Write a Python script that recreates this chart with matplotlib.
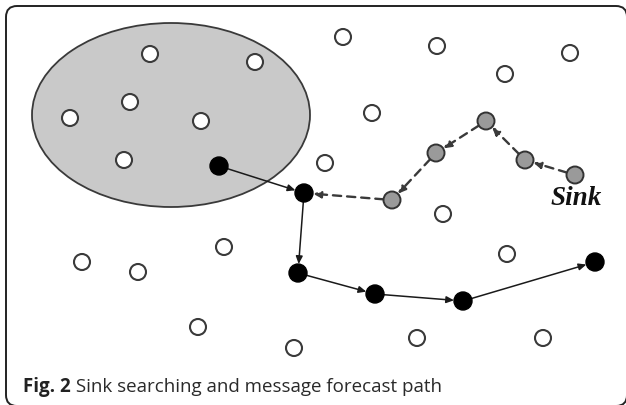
import matplotlib
matplotlib.use("Agg")
import matplotlib.pyplot as plt
from matplotlib.patches import Circle, Ellipse, FancyBboxPatch

# Node positions (pixel-like coordinates, y downward)
white_x = [150, 255, 130, 70, 201, 124, 343, 437, 570, 505, 372, 325, 443, 507, 224, 82, 138, 198, 294, 417, 543]
white_y = [54, 62, 102, 118, 121, 160, 37, 46, 53, 74, 113, 163, 214, 254, 247, 262, 272, 327, 348, 338, 338]

# gray path: sink -> ... (dashed, message forecast)
gray_x = [575, 525, 486, 436, 392]
gray_y = [175, 160, 121, 153, 200]

# black path (solid, sink searching)
black_x = [219, 304, 298, 375, 463, 595]
black_y = [166, 193, 273, 294, 301, 262]

ellipse_center = (171, 115)
ellipse_w, ellipse_h = 278, 184

caption_bold = "Fig. 2"
caption_rest = " Sink searching and message forecast path"
sink_label = "Sink"

fig = plt.figure(figsize=(6.26, 4.05), dpi=100)
ax = fig.add_axes([0, 0, 1, 1])
ax.set_xlim(0, 626)
ax.set_ylim(405, 0)
ax.axis("off")

frame = FancyBboxPatch((6, 6), 621, 400, boxstyle="round,pad=0,rounding_size=11",
                       fill=False, edgecolor="#222222", linewidth=1.4)
ax.add_patch(frame)

ax.add_patch(Ellipse(ellipse_center, ellipse_w, ellipse_h, facecolor="#c9c9c9",
                     edgecolor="#3a3a3a", linewidth=1.3, zorder=1))

r_white, r_gray, r_black = 8, 8.5, 9

def edge(p0, p1, dashed=False, r0=9, r1=9):
    px = 0.72
    ax.annotate("", xy=p1, xytext=p0,
                arrowprops=dict(arrowstyle="-|>,head_length=0.45,head_width=0.2",
                                color="#1a1a1a" if not dashed else "#3a3a3a",
                                lw=1.1 if not dashed else 1.7,
                                linestyle=(0, (3.5, 2.5)) if dashed else "-",
                                shrinkA=r0 * px, shrinkB=r1 * px),
                zorder=2)

for i in range(len(black_x) - 1):
    edge((black_x[i], black_y[i]), (black_x[i + 1], black_y[i + 1]),
         r0=r_black, r1=r_black)

gx = gray_x + [black_x[1]]
gy = gray_y + [black_y[1]]
for i in range(len(gx) - 1):
    r1 = r_black if i == len(gx) - 2 else r_gray
    edge((gx[i], gy[i]), (gx[i + 1], gy[i + 1]), dashed=True, r0=r_gray, r1=r1)

for x, y in zip(white_x, white_y):
    ax.add_patch(Circle((x, y), r_white, facecolor="white", edgecolor="#3a3a3a",
                        linewidth=1.5, zorder=3))
for x, y in zip(gray_x, gray_y):
    ax.add_patch(Circle((x, y), r_gray, facecolor="#9a9a9a", edgecolor="#333333",
                        linewidth=1.4, zorder=3))
for x, y in zip(black_x, black_y):
    ax.add_patch(Circle((x, y), r_black, facecolor="black", edgecolor="black",
                        linewidth=1.0, zorder=3))

ax.text(551, 205, sink_label, family="Liberation Serif", weight="bold", style="italic",
        fontsize=19.5, color="#111111", ha="left", va="baseline")

t = ax.text(23, 392, caption_bold, family="Open Sans", weight="bold", fontsize=13.5,
            color="#222222", ha="left", va="baseline")
fig.canvas.draw()
bb = t.get_window_extent()
ax.text(bb.x1 / 626.0, 1 - 392 / 405.0, caption_rest, transform=fig.transFigure,
        family="Open Sans", fontsize=13.5, color="#2a2a2a", ha="left", va="baseline")

fig.savefig("out.png", dpi=100)
